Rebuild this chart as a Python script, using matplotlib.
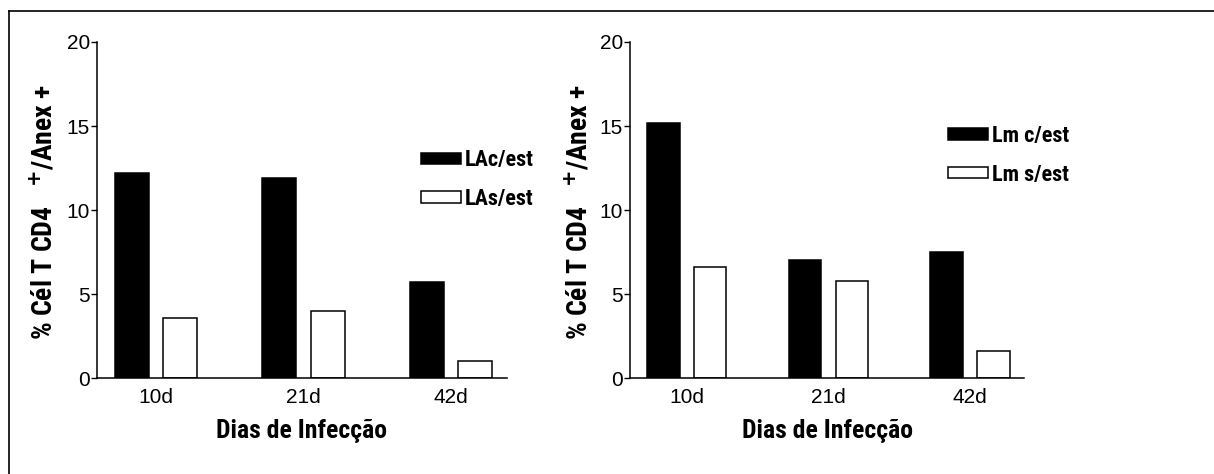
import numpy as np
import matplotlib
matplotlib.use("Agg")
import matplotlib.pyplot as plt
from matplotlib.lines import Line2D

# data
days = ["10d", "21d", "42d"]
la_com_est = [12.2, 11.9, 5.7]
la_sem_est = [3.6, 4.0, 1.0]
lm_com_est = [15.2, 7.0, 7.5]
lm_sem_est = [6.6, 5.8, 1.6]

legend_left = ["LAc/est", "LAs/est"]
legend_right = ["Lm c/est", "Lm s/est"]
xlabel = "Dias de Infecção"
ylabel = "% Cél T CD4   $^{\\mathbf{+}}$/Anex +"

plt.rcParams["font.family"] = ["Liberation Sans", "DejaVu Sans"]
bold_font = ["Roboto Condensed", "Liberation Sans", "DejaVu Sans"]


def draw_panel(ax, black_vals, white_vals, labels, leg_anchor, ylab_x):
    x = np.arange(len(days))
    w = 0.23
    b1 = ax.bar(x - 0.165, black_vals, w, color="black", edgecolor="black", linewidth=1.1)
    b2 = ax.bar(x + 0.165, white_vals, w, color="white", edgecolor="black", linewidth=1.1)
    ax.set_ylim(0, 20)
    ax.set_xlim(-0.40, 2.38)
    ax.set_yticks([0, 5, 10, 15, 20])
    ax.set_xticks(x)
    ax.set_xticklabels(days)
    ax.spines["top"].set_visible(False)
    ax.spines["right"].set_visible(False)
    ax.spines["left"].set_linewidth(1.1)
    ax.spines["bottom"].set_linewidth(1.1)
    ax.tick_params(axis="y", direction="out", length=4, width=1, pad=1, labelsize=15)
    ax.tick_params(axis="x", length=0, pad=7, labelsize=15)
    ax.set_xlabel(xlabel, fontsize=18.5, fontweight="bold", family=bold_font, labelpad=9)
    ax.text(ylab_x, 0.495, ylabel, transform=ax.transAxes, rotation=90,
            ha="center", va="center", fontsize=20, fontweight="bold", family=bold_font)
    ax.legend([b1, b2], labels, loc="upper left", bbox_to_anchor=leg_anchor,
              frameon=False, borderpad=0, handlelength=1.8, handleheight=0.4,
              handletextpad=0.15, labelspacing=0.75,
              prop={"family": bold_font, "weight": "bold", "size": 16})


fig = plt.figure(figsize=(12.14, 4.74), dpi=100)
ax1 = fig.add_axes([0.0799, 0.2025, 0.3377, 0.7089])
ax2 = fig.add_axes([0.519, 0.2025, 0.3245, 0.7089])

draw_panel(ax1, la_com_est, la_sem_est, legend_left, (0.764, 0.714), -0.13)
draw_panel(ax2, lm_com_est, lm_sem_est, legend_right, (0.78, 0.786), -0.13)

# frame lines of the original scan (top and left)
fig.add_artist(Line2D([0.0074, 1.0], [0.977, 0.977], color="black", linewidth=1.2))
fig.add_artist(Line2D([0.0074, 0.0074], [0.0, 0.977], color="black", linewidth=1.2))

fig.savefig("out.png", dpi=100)
